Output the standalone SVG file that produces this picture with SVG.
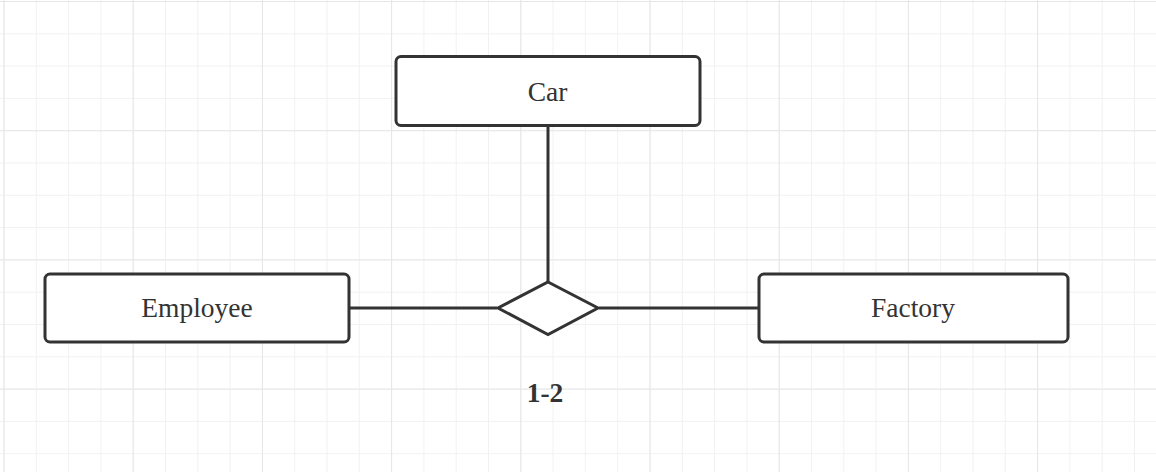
<svg xmlns="http://www.w3.org/2000/svg" width="1156" height="472" viewBox="0 0 1156 472">
<defs>
<pattern id="minor" x="3.5" y="1" width="32.3" height="32.3" patternUnits="userSpaceOnUse">
<path d="M0 0V32.3M0 0H32.3" fill="none" stroke="#f1f1f1" stroke-width="2"/>
</pattern>
<pattern id="major" x="3.5" y="1" width="129.2" height="129.2" patternUnits="userSpaceOnUse">
<path d="M0 0V129.2M0 0H129.2" fill="none" stroke="#e6e6e6" stroke-width="2"/>
</pattern>
</defs>
<style>
.box{fill:#fff;stroke:#333;stroke-width:3}
.lbl{font-family:"Liberation Serif",serif;font-size:27.5px;fill:#333;text-anchor:middle}
.edge{stroke:#333;stroke-width:3;fill:none}
</style>
<rect width="1156" height="472" fill="#fff"/>
<rect width="1156" height="472" fill="url(#minor)"/>
<rect width="1156" height="472" fill="url(#major)"/>
<g id="connectors">
<line class="edge" x1="548" y1="126" x2="548" y2="282"/>
<line class="edge" x1="350" y1="308" x2="497" y2="308"/>
<line class="edge" x1="599" y1="308" x2="759" y2="308"/>
</g>
<g id="car">
<rect class="box" x="396" y="56.5" width="304" height="69" rx="5"/>
<text class="lbl" x="547.5" y="100.5">Car</text>
</g>
<g id="employee">
<rect class="box" x="45" y="274" width="304" height="68" rx="5"/>
<text class="lbl" x="197" y="316.5">Employee</text>
</g>
<g id="factory">
<rect class="box" x="759" y="274" width="309" height="68" rx="5"/>
<text class="lbl" x="913" y="316.5">Factory</text>
</g>
<g id="relation">
<polygon class="box" points="548,282 598,308 548,334.5 498,308" stroke-linejoin="miter"/>
<text class="lbl" x="545" y="402" font-weight="bold">1-2</text>
</g>
</svg>
